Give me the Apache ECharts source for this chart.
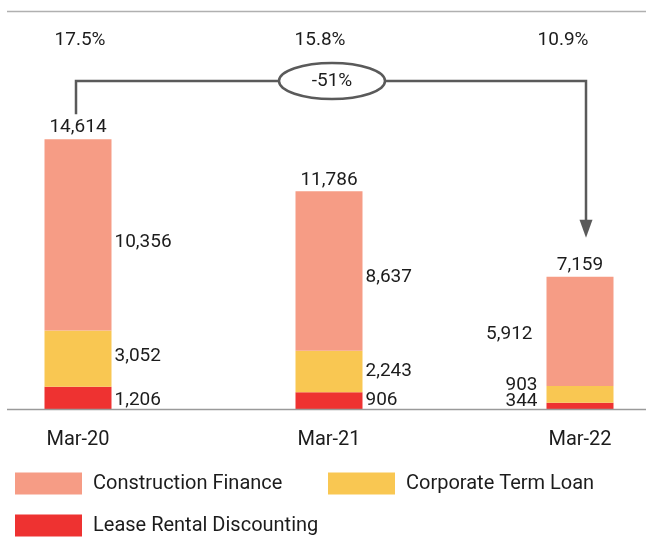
<!DOCTYPE html>
<html>
<head>
<meta charset="utf-8">
<script src="https://cdn.jsdelivr.net/npm/echarts@6/dist/echarts.min.js"></script>
<style>
  html, body { margin: 0; padding: 0; background: #ffffff; }
  #chart { width: 646px; height: 554px; }
</style>
</head>
<body>
<div id="chart"></div>
<script>
// Loan book by segment (Rs crore), year-end March
const categories = ['Mar-20', 'Mar-21', 'Mar-22'];
const constructionFinance = [10356, 8637, 5912];
const corporateTermLoan = [3052, 2243, 903];
const leaseRentalDiscounting = [1206, 906, 344];
const totals = [14614, 11786, 7159];
const shareOfBook = ['17.5%', '15.8%', '10.9%'];

const FONT = 'Roboto, "Noto Sans", sans-serif';
const TEXT = '#1c1c1c';
const COLORS = { cf: '#F69C85', ctl: '#F9C752', lrd: '#EE3231' };

const fmt = v => v.toLocaleString('en-US');

// per-bar label placement: first two bars labelled on the right, last one on the left
function segLabels(values, offsets, lastDist) {
  return values.map((v, i) => ({
    value: v,
    label: i === 2
      ? { position: 'left', distance: lastDist, offset: [0, offsets[i]] }
      : { position: 'right', distance: 3, offset: [0, offsets[i]] }
  }));
}

const baseLabel = {
  show: true,
  color: TEXT,
  fontFamily: FONT,
  fontSize: 19,
  formatter: p => fmt(p.value)
};

const chart = echarts.init(document.getElementById('chart'), null, { renderer: 'canvas' });

const legendText = { color: TEXT, fontFamily: FONT, fontSize: 20, lineHeight: 22, padding: [7, 0, 0, 6] };
const legendBase = { icon: 'rect', itemWidth: 67, itemHeight: 22, textStyle: legendText, selectedMode: false, padding: 0 };

chart.setOption({
  animation: false,
  backgroundColor: '#ffffff',
  grid: { left: 78, right: 66, top: 12, bottom: 145, containLabel: false },
  xAxis: {
    type: 'category',
    data: categories,
    boundaryGap: false,
    axisLine: { show: false },
    axisTick: { show: false },
    axisLabel: { color: TEXT, fontFamily: FONT, fontSize: 20, margin: 21 }
  },
  yAxis: {
    type: 'value',
    min: 0,
    max: 21500,
    show: false,
    splitLine: { show: false }
  },
  legend: [
    Object.assign({ data: ['Construction Finance'], left: 15, top: 469 }, legendBase),
    Object.assign({ data: ['Corporate Term Loan'], left: 328, top: 469 }, legendBase),
    Object.assign({ data: ['Lease Rental Discounting'], left: 15, top: 511 }, legendBase)
  ],
  series: [
    {
      name: 'Lease Rental Discounting',
      type: 'bar',
      stack: 'book',
      barWidth: 67,
      clip: false,
      itemStyle: { color: COLORS.lrd },
      label: baseLabel,
      data: segLabels(leaseRentalDiscounting, [2, 0, -5], 9)
    },
    {
      name: 'Corporate Term Loan',
      type: 'bar',
      stack: 'book',
      barWidth: 67,
      clip: false,
      itemStyle: { color: COLORS.ctl },
      label: baseLabel,
      data: segLabels(corporateTermLoan, [-2, 0, -9], 9)
    },
    {
      name: 'Construction Finance',
      type: 'bar',
      stack: 'book',
      barWidth: 67,
      clip: false,
      itemStyle: { color: COLORS.cf },
      label: baseLabel,
      data: segLabels(constructionFinance, [7, 6, 3], 14)
    },
    {
      name: 'Total',
      type: 'scatter',
      symbolSize: 0,
      clip: false,
      silent: true,
      itemStyle: { opacity: 1 },
      label: {
        show: true,
        position: 'top',
        distance: 2,
        color: TEXT,
        fontFamily: FONT,
        fontSize: 19,
        formatter: p => fmt(p.value)
      },
      data: totals
    }
  ]
});

// annotations: rules, share-of-book ratios and the Mar-20 -> Mar-22 change bracket
const px = i => chart.convertToPixel({ xAxisIndex: 0 }, categories[i]);
const py = v => chart.convertToPixel({ yAxisIndex: 0 }, v);
const base = py(0);
const ratioShift = [2, -9, -17];
const LINE = '#5a5a5a';

const change = Math.round((totals[2] / totals[0] - 1) * 100);
const xL = px(0) - 2;
const xR = px(2) + 6;
const yBracket = 81;
const eCx = px(1) + 3, eRx = 53, eRy = 18;
const yStart = py(totals[0]) - 25;
const yTip = py(totals[2]) - 39;

const graphics = [
  { type: 'line', shape: { x1: 7, y1: 11.5, x2: 646, y2: 11.5 }, style: { stroke: '#b0b0b0', lineWidth: 1.5 } },
  { type: 'line', shape: { x1: 7, y1: base + 0.5, x2: 646, y2: base + 0.5 }, style: { stroke: '#9a9a9a', lineWidth: 1.5 }, z: 10 },
  {
    type: 'polyline',
    shape: { points: [[xL, yStart], [xL, yBracket], [eCx - eRx, yBracket]] },
    style: { stroke: LINE, lineWidth: 2.5, fill: null }
  },
  {
    type: 'polyline',
    shape: { points: [[eCx + eRx, yBracket], [xR, yBracket], [xR, yTip - 16]] },
    style: { stroke: LINE, lineWidth: 2.5, fill: null }
  },
  {
    type: 'polygon',
    shape: { points: [[xR - 6.5, yTip - 18], [xR + 6.5, yTip - 18], [xR, yTip]] },
    style: { fill: LINE }
  },
  {
    type: 'ellipse',
    shape: { cx: eCx, cy: yBracket, rx: eRx, ry: eRy },
    style: { stroke: LINE, lineWidth: 2.5, fill: '#ffffff' }
  },
  {
    type: 'text',
    x: eCx, y: yBracket,
    style: { text: change + '%', fill: TEXT, font: '19px ' + FONT, align: 'center', verticalAlign: 'middle' }
  }
];

shareOfBook.forEach((s, i) => {
  graphics.push({
    type: 'text',
    x: px(i) + ratioShift[i], y: 40,
    style: { text: s, fill: TEXT, font: '19px ' + FONT, align: 'center', verticalAlign: 'middle' }
  });
});

chart.setOption({ graphic: graphics });
</script>
</body>
</html>
